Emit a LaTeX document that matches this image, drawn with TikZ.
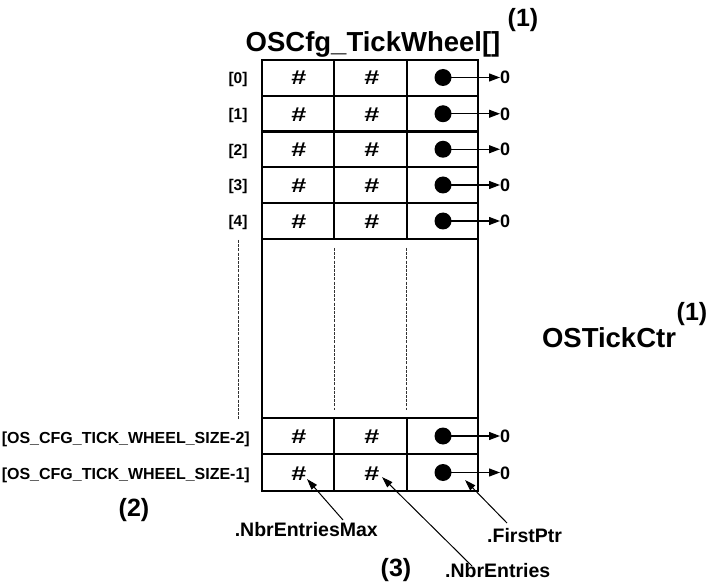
\documentclass[tikz,border=0pt]{standalone}
\usepackage{fontspec}
\setmainfont{Liberation Sans}
\usetikzlibrary{arrows.meta}
\tikzset{
  gridline/.style={line width=2.3pt},
  coldiv/.style={line width=2pt},
  dashdiv/.style={line width=0.8pt, dash pattern=on 3pt off 1.2pt, black!80},
  rowlbl/.style={font=\fontsize{15.5}{15.5}\selectfont\bfseries, inner sep=0pt, anchor=base},
  longlbl/.style={font=\fontsize{16}{16}\selectfont\bfseries, inner sep=0pt, anchor=base east},
  hashtxt/.style={font=\fontsize{20}{20}\selectfont\bfseries, inner sep=0pt, anchor=base},
  ptrdot/.style={circle, fill=black, minimum size=17pt, inner sep=0pt},
  zerotxt/.style={font=\fontsize{18}{18}\selectfont\bfseries, inner sep=0pt, anchor=base west},
  ptrarrow/.style={-{Triangle[length=11pt,width=8pt]}, line width=1.2pt},
  annarrow/.style={-{Triangle[length=11pt,width=7pt]}, line width=1pt},
  bigtxt/.style={font=\fontsize{27.5}{27.5}\selectfont\bfseries, inner sep=0pt, anchor=base},
  numtxt/.style={font=\fontsize{25}{25}\selectfont\bfseries, inner sep=0pt, anchor=base},
  fieldtxt/.style={font=\fontsize{19.5}{19.5}\selectfont\bfseries, inner sep=0pt, anchor=base},
}
\newcommand{\hashmark}{\scalebox{1.35}[1]{\#}}
\begin{document}
\begin{tikzpicture}[x=1pt,y=-1pt]
\useasboundingbox (0,0) rectangle (709,585);

% table frame
\draw[gridline] (262,60) rectangle (478,491);
\foreach \yy in {96,131.5,167,203,239,418,454}
  \draw[gridline] (262,\yy) -- (478,\yy);
\foreach \xx in {334,406.5} {
  \draw[coldiv] (\xx,60) -- (\xx,239);
  \draw[coldiv] (\xx,418) -- (\xx,491);
  \draw[dashdiv] (\xx,248) -- (\xx,410);
}
\draw[dashdiv] (238,240) -- (238,420);

% titles
\node[bigtxt] (title) at (373,52) {OSCfg\_TickWheel[]};
\node[numtxt] (n1a) at (523,27) {(1)};
\node[bigtxt] (ctr) at (609,347) {OSTickCtr};
\node[numtxt] (n1b) at (692,320) {(1)};

% rows
\foreach \i/\rc/\lab in {0/77.5/{[0]},1/113.75/{[1]},2/149.25/{[2]},3/185/{[3]},4/221/{[4]},5/436/{},6/472.5/{}} {
  \node[rowlbl] (r\i) at (238,\rc+6) {\lab};
  \node[hashtxt] (ha\i) at (299,\rc+7.5) {\hashmark};
  \node[hashtxt] (hb\i) at (372,\rc+7.5) {\hashmark};
  \node[ptrdot] (d\i) at (443,\rc) {};
  \node[zerotxt] (z\i) at (500,\rc+6.5) {0};
  \draw[ptrarrow] (d\i.center) -- (d\i.center -| z\i.west);
}
\node[longlbl] (sz2) at (250,443) {[OS\_CFG\_TICK\_WHEEL\_SIZE-2]};
\node[longlbl] (sz1) at (250,479.5) {[OS\_CFG\_TICK\_WHEEL\_SIZE-1]};
\node[numtxt] (n2) at (134,516) {(2)};
\node[numtxt] (n3) at (396,576) {(3)};

% field labels
\node[fieldtxt, anchor=base east] (nem) at (378,536) {.NbrEntriesMax};
\node[fieldtxt, anchor=base west] (fp) at (487,542) {.FirstPtr};
\node[fieldtxt, anchor=base west] (ne) at (445,577) {.NbrEntries};

\coordinate (tnem) at (343,520);
\coordinate (hnem) at (307,479);
\coordinate (tne) at (472,566);
\coordinate (hne) at (382,477);
\coordinate (tfp) at (507,523);
\coordinate (hfp) at (465,480);
\draw[annarrow] (tnem) -- (hnem);
\draw[annarrow] (tne) -- (hne);
\draw[annarrow] (tfp) -- (hfp);
\end{tikzpicture}
\end{document}
